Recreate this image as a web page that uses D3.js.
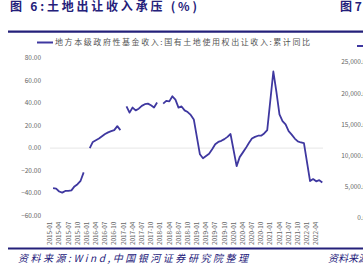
<!DOCTYPE html>
<html>
<head>
<meta charset="utf-8">
<script src="https://cdn.jsdelivr.net/npm/d3@7"></script>
<style>
  html, body { margin: 0; padding: 0; background: #fff; }
  svg { display: block; font-family: "Noto Sans CJK SC", "Noto Sans", sans-serif; }
</style>
</head>
<body>
<div id="chart"></div>
<script>
// months shown, Jan of 2016-2018 is a gap, Jan of 2019+ is not reported (line joins)
const months = [
  "2015-02","2015-03","2015-04","2015-05","2015-06","2015-07","2015-08","2015-09","2015-10","2015-11","2015-12",
  "2016-01","2016-02","2016-03","2016-04","2016-05","2016-06","2016-07","2016-08","2016-09","2016-10","2016-11","2016-12",
  "2017-01","2017-02","2017-03","2017-04","2017-05","2017-06","2017-07","2017-08","2017-09","2017-10","2017-11","2017-12",
  "2018-01","2018-02","2018-03","2018-04","2018-05","2018-06","2018-07","2018-08","2018-09","2018-10","2018-11","2018-12",
  "2019-02","2019-03","2019-04","2019-05","2019-06","2019-07","2019-08","2019-09","2019-10","2019-11","2019-12",
  "2020-02","2020-03","2020-04","2020-05","2020-06","2020-07","2020-08","2020-09","2020-10","2020-11","2020-12",
  "2021-02","2021-03","2021-04","2021-05","2021-06","2021-07","2021-08","2021-09","2021-10","2021-11","2021-12",
  "2022-02","2022-03","2022-04","2022-05","2022-06"
];
const landRevenueYoY = [
  -35.5,-36,-38.5,-39.5,-38,-38,-37.5,-34,-32,-29,-21.5,
  null,0,5.5,7,8.5,10.5,12.5,14,15,16,19.5,16,
  null,37,31.5,36,33.5,35,37.5,39,39.5,38,36,40.5,
  null,39.5,42,41.5,46,43,36,37,33.5,32,29.5,25.5,
  -5.5,-9,-7,-5,-1,3.5,5.5,6.5,8,10,12.5,
  -16,-8,-4,0,4.5,8.5,10,11,11,13,16,
  68,50,30,24,21,15,12,8.5,6,5,4.5,
  -29.3,-27.5,-29.5,-28.5,-30.5
];
const yTicks = [80, 60, 40, 20, 0, -20, -40, -60];
const rightTicks = ["25,000.00","20,000.00","15,000.00","10,000.00","5,000.00","0.00"];
const seriesName = "地方本级政府性基金收入:国有土地使用权出让收入:累计同比";
const title = "图 6:土地出让收入承压 (%)";
const source = "资料来源:Wind,中国银河证券研究院整理";

// full month axis 2015-01 .. 2022-06
const allMonths = [];
for (let y = 2015; y <= 2022; y++) {
  for (let m = 1; m <= 12; m++) {
    if (y === 2022 && m > 6) break;
    allMonths.push(y + "-" + String(m).padStart(2, "0"));
  }
}
const tickMonths = allMonths.filter((d, i) => i % 3 === 0 && d <= "2022-04");

const W = 363, H = 267;
const navy = "#24207a", lineColor = "#3f38a0", grey = "#666";

const svg = d3.select("#chart").append("svg")
    .attr("width", W).attr("height", H);

const x = d3.scalePoint().domain(allMonths).range([50, 322.3]);
const y = d3.scaleLinear().domain([-60, 80]).range([215.7, 58]);

// header
svg.append("text")
    .attr("x", 10).attr("y", 10.5)
    .attr("fill", navy).attr("font-size", 12).attr("font-weight", "bold")
    .attr("textLength", 187).attr("lengthAdjust", "spacing")
    .text(title);
svg.append("text")
    .attr("x", 340).attr("y", 10.5)
    .attr("fill", navy).attr("font-size", 12).attr("font-weight", "bold")
    .text("图 7");
svg.append("line")
    .attr("x1", 8).attr("x2", W).attr("y1", 31.7).attr("y2", 31.7)
    .attr("stroke", navy).attr("stroke-width", 2.2);

// legend
svg.append("line")
    .attr("x1", 37).attr("x2", 53).attr("y1", 42.5).attr("y2", 42.5)
    .attr("stroke", lineColor).attr("stroke-width", 2);
svg.append("text")
    .attr("x", 55).attr("y", 45.3)
    .attr("fill", "#555").attr("font-size", 8)
    .attr("textLength", 255).attr("lengthAdjust", "spacing")
    .text(seriesName);

// y axis labels
svg.append("g").selectAll("text")
  .data(yTicks).join("text")
    .attr("x", 41).attr("y", d => y(d) + 2.3)
    .attr("text-anchor", "end")
    .attr("fill", grey).attr("font-size", 6.5)
    .text(d3.format(".2f"));

// zero line
svg.append("line")
    .attr("x1", 50).attr("x2", 323).attr("y1", y(0)).attr("y2", y(0))
    .attr("stroke", "#e6e6e6").attr("stroke-width", 1);

// x axis labels (rotated)
svg.append("g").selectAll("text")
  .data(tickMonths).join("text")
    .attr("transform", d => `translate(${x(d) + 2.2},245) rotate(-90)`)
    .attr("text-anchor", "start")
    .attr("fill", grey).attr("font-size", 6.3)
    .text(d => d);

// the series
const pts = months.map((m, i) => ({m: m, v: landRevenueYoY[i]}));
const line = d3.line()
    .defined(d => d.v != null)
    .x(d => x(d.m))
    .y(d => y(d.v));
svg.append("path")
    .datum(pts)
    .attr("d", line)
    .attr("fill", "none")
    .attr("stroke", lineColor)
    .attr("stroke-width", 1.8)
    .attr("stroke-linejoin", "round");

// right neighbour chart (cut off)
const yR = d3.scaleLinear().domain([0, 25000]).range([218, 62]);
svg.append("g").selectAll("text")
  .data(rightTicks).join("text")
    .attr("x", 370).attr("y", (d, i) => yR(25000 - i * 5000) + 2.3)
    .attr("text-anchor", "end")
    .attr("fill", grey).attr("font-size", 6.5)
    .text(d => d);
svg.append("line")
    .attr("x1", 357).attr("x2", W).attr("y1", 46).attr("y2", 46)
    .attr("stroke", lineColor).attr("stroke-width", 2);

// footer
svg.append("line")
    .attr("x1", 8).attr("x2", W).attr("y1", 248.5).attr("y2", 248.5)
    .attr("stroke", navy).attr("stroke-width", 2.2);
svg.append("text")
    .attr("x", 18).attr("y", 262)
    .attr("fill", navy).attr("font-size", 10).attr("font-style", "italic")
    .attr("textLength", 230).attr("lengthAdjust", "spacing")
    .text(source);
svg.append("text")
    .attr("x", 328).attr("y", 262)
    .attr("fill", navy).attr("font-size", 10).attr("font-style", "italic")
    .text("资料来源");
</script>
</body>
</html>
